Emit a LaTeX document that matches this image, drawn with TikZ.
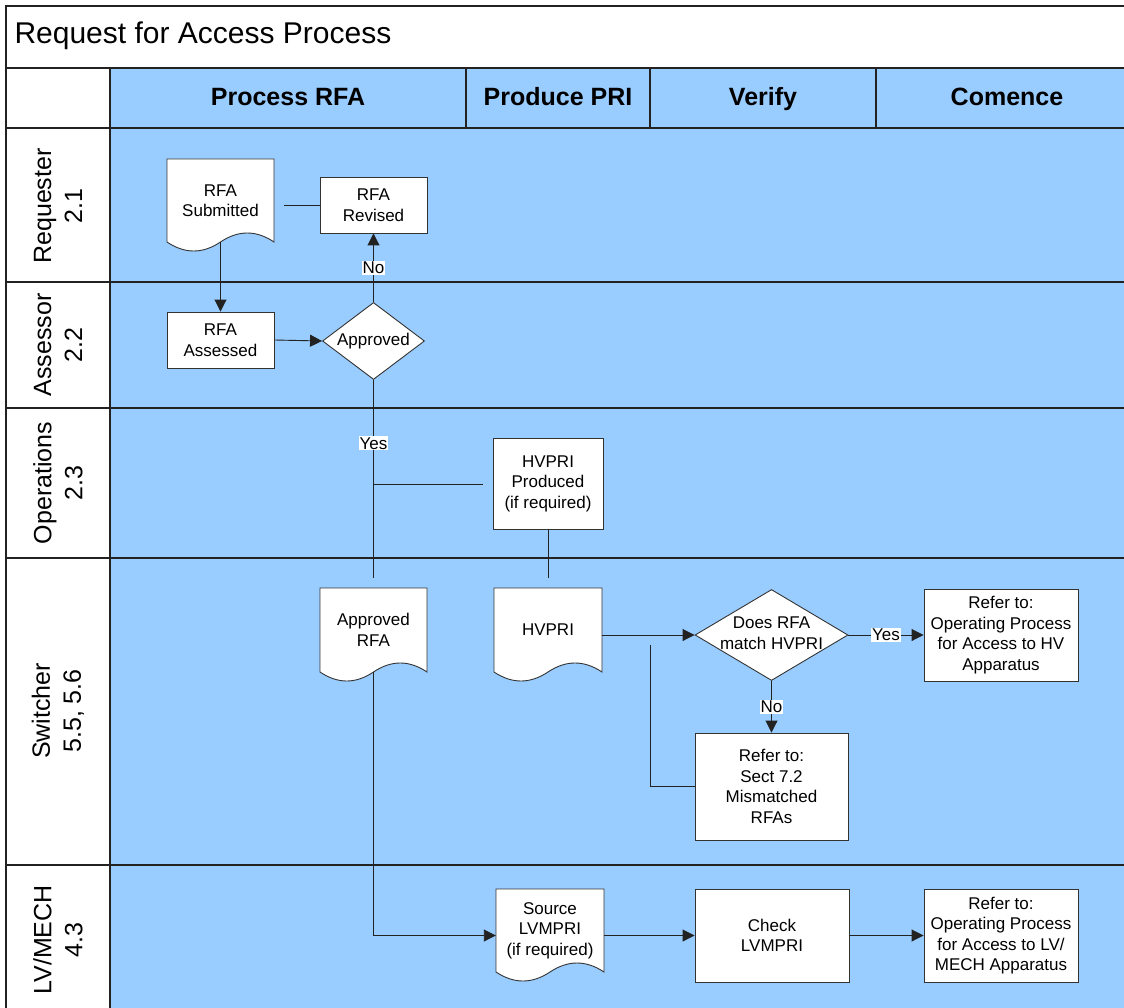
\documentclass[tikz,border=0pt]{standalone}
\usepackage{fontspec}
\setmainfont{Liberation Sans}
\usetikzlibrary{arrows.meta,shapes.geometric}
\definecolor{lane}{HTML}{99CCFF}
\definecolor{edge}{HTML}{333333}
\definecolor{wire}{HTML}{222222}
\newcommand\zw[1]{\makebox[0pt]{\begin{tabular}{@{}c@{}}#1\end{tabular}}}
\newcommand\docnode[6]{%
  \filldraw[draw=edge, fill=white, line width=0.9pt] (#2,#3) -- (#4,#3) -- (#4,#5)
    .. controls ({#4-(#4-#2)/6},{#5-12}) and ({(#2+#4)/2+(#4-#2)/6},{#5-12}) .. ({(#2+#4)/2},#5)
    .. controls ({(#2+#4)/2-(#4-#2)/6},{#5+12}) and ({#2+(#4-#2)/6},{#5+12}) .. (#2,#5) -- cycle;
  \node[doctext, minimum width={#4-#2}, minimum height={#5-#3}] (#1) at ({(#2+#4)/2},{(#3+#5)/2}) {#6};
}
\begin{document}
\begin{tikzpicture}[x=1pt,y=-1pt,
  every node/.style={font=\fontsize{17}{20.5}\selectfont},
  box/.style={draw=edge, fill=white, line width=0.9pt, align=center, inner sep=0pt},
  doctext/.style={align=center, inner sep=0pt},
  dec/.style={diamond, draw=edge, fill=white, line width=0.9pt, inner sep=0pt},
  conn/.style={draw=wire, line width=0.9pt},
  arr/.style={conn, -{Triangle[length=12pt,width=12pt]}},
  lbl/.style={fill=white, inner sep=1pt},
  laneline/.style={line width=1.5pt, draw=wire},
  lanetitle/.style={rotate=90, align=center, font=\fontsize{25}{31}\selectfont},
  colhead/.style={font=\bfseries\fontsize{25}{30}\selectfont, text height=18pt, text depth=5pt, inner sep=0pt},
]
\useasboundingbox (0,0) rectangle (1124,1008);
\fill[white] (0,0) rectangle (1124,1008);
\fill[lane] (110,68) rectangle (1124,1008);
% frame and lane lines
\draw[laneline] (6,1008) -- (6,6) -- (1124,6);
\draw[laneline] (6,68) -- (1124,68);
\draw[laneline] (110,68) -- (110,1008);
\foreach \xx in {466,650,876} \draw[laneline] (\xx,68) -- (\xx,128);
\foreach \yy in {128,282,408,558,865} \draw[laneline] (6,\yy) -- (1124,\yy);
% titles
\node[anchor=west, font=\fontsize{30}{34}\selectfont] (title) at (11,36) {Request for Access Process};
\node[colhead] (c1) at (288,99) {Process RFA};
\node[colhead] (c2) at (558,99) {Produce PRI};
\node[colhead] (c3) at (763,99) {Verify};
\node[colhead] (c4) at (1007,99) {Comence};
\node[lanetitle] (l1) at (58,206) {Requester\\2.1};
\node[lanetitle] (l2) at (58,345) {Assessor\\2.2};
\node[lanetitle] (l3) at (58,483) {Operations\\2.3};
\node[lanetitle] (l4) at (58,711) {Switcher\\5.5, 5.6};
\node[lanetitle] (l5) at (58,940) {LV/MECH\\4.3};
% shapes
\docnode{sub}{167}{159}{274}{242}{RFA\\Submitted}
\docnode{ardoc}{320}{588}{427}{672}{Approved\\RFA}
\docnode{hvdoc}{494}{588}{602}{672}{HVPRI}
\docnode{src}{496}{889}{604}{972}{Source\\LVMPRI\\(if required)}
\node[box, minimum width=107, minimum height=56] (rev) at (373.5,205) {RFA\\Revised};
\node[box, minimum width=107, minimum height=56] (ass) at (220.5,340) {RFA\\Assessed};
\node[dec, minimum width=102, minimum height=77] (appr) at (373.5,341) {\zw{Approved}};
\node[box, minimum width=110, minimum height=91] (hvp) at (548,483.5) {HVPRI\\Produced\\(if required)};
\node[dec, minimum width=153, minimum height=91] (match) at (771.5,635) {\zw{Does RFA\\match HVPRI}};
\node[box, minimum width=154, minimum height=92] (hvref) at (1001,635) {Refer to:\\Operating Process\\for Access to HV\\Apparatus};
\node[box, minimum width=153, minimum height=107] (mis) at (771.5,786.5) {Refer to:\\Sect 7.2\\Mismatched\\RFAs};
\node[box, minimum width=154, minimum height=93] (chk) at (772,935.5) {Check\\LVMPRI};
\node[box, minimum width=154, minimum height=93] (lvref) at (1001,935.5) {Refer to:\\Operating Process\\for Access to LV/\\MECH Apparatus};
% free ends
\coordinate (revend) at (284,205);
\coordinate (yesend) at (373.5,578);
\coordinate (br1) at (373.5,484);
\coordinate (br2) at (483,484);
\coordinate (hvpend) at (548,578);
\coordinate (fb) at (650,645);
% connectors
\draw[arr] (sub.south) -- (ass.north);
\draw[conn] (rev.west) -- (revend);
\draw[arr] (ass.east) -- (appr.west);
\draw[arr] (appr.north) -- node[lbl]{No} (rev.south);
\draw[conn] (appr.south) -- node[lbl, pos=0.32]{Yes} (yesend);
\draw[conn] (br1) -- (br2);
\draw[conn] (hvp.south) -- (hvpend);
\draw[arr] (hvdoc.east |- match.west) -- (match.west);
\draw[arr] (match.east) -- node[lbl]{Yes} (hvref.west);
\draw[arr] (match.south) -- node[lbl]{No} (mis.north);
\draw[conn] (mis.west) -| (fb);
\draw[arr] (ardoc.south) |- (src.west |- chk.west);
\draw[arr] (src.east |- chk.west) -- (chk.west);
\draw[arr] (chk.east) -- (lvref.west);
\end{tikzpicture}
\end{document}
